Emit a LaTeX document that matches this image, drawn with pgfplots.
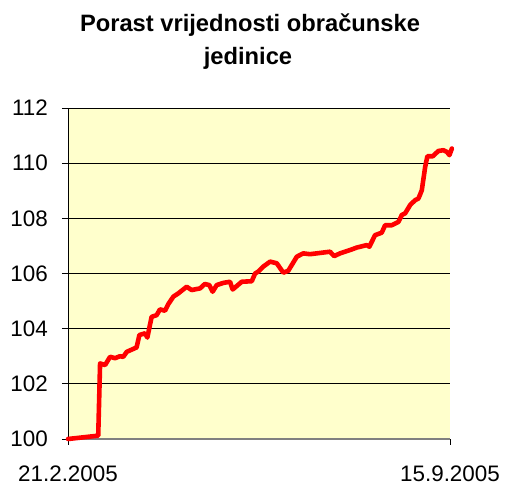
\documentclass[border=0pt]{standalone}
\usepackage{pgfplots}
\pgfplotsset{compat=1.18}
\usepackage{fontspec}
\setmainfont{Liberation Sans}
\definecolor{bgyel}{HTML}{FFFFCC}
\definecolor{linered}{HTML}{FF0000}
\begin{document}
\begin{tikzpicture}
\path[use as bounding box] (-68bp,-47bp) rectangle (440bp,439bp);
\begin{axis}[
  at={(0,0)}, anchor=south west,
  scale only axis, width=382bp, height=331bp,
  xmin=0, xmax=206, ymin=100, ymax=112,
  ytick={100,102,...,112},
  xtick={0,206}, xticklabels={21.2.2005,15.9.2005},
  axis lines=left, axis line style={-},
  x axis line style={draw=gray, line width=1.3bp},
  y axis line style={draw=black, line width=0.8bp},
  ymajorgrids, grid style={black, line width=0.7bp},
  tick align=outside, major tick length=6bp,
  tick style={black, line width=0.8bp},
  minor tick num=0,
  /pgf/number format/assume math mode=true,
  ticklabel style={font=\fontsize{22.5}{26}\selectfont},
  yticklabel style={inner sep=0pt, anchor=east, xshift=-14bp},
  xticklabel style={inner sep=0pt, anchor=north, yshift=-21bp},
  axis background/.style={fill=bgyel},
  clip=false,
]
\addplot[linered, line width=4.6bp, line join=round, line cap=round] coordinates {
(0,100.0) (16.3,100.12) (17.3,102.74) (20,102.68) (22.7,102.98) (25.4,102.93)
(28,103.0) (29.8,102.98) (31.7,103.16) (37,103.32) (38.5,103.77) (41.5,103.83)
(42.8,103.68) (45.1,104.43) (47.8,104.49) (49.6,104.70) (52.3,104.65) (54.1,104.89)
(56.8,105.16) (59.5,105.28) (64,105.52) (66.7,105.40) (71.2,105.46) (73.8,105.62)
(76.2,105.58) (78,105.34) (80.2,105.58) (83.8,105.66) (87.4,105.70) (88.8,105.42)
(93.7,105.70) (99.1,105.72) (100.9,106.0) (102.6,106.07) (105.3,106.25) (109,106.43)
(112.6,106.37) (116.1,106.03) (118.8,106.10) (123.4,106.61) (126.9,106.73) (130.5,106.70)
(134.1,106.73) (141.3,106.79) (143.5,106.63) (146.7,106.73) (152.1,106.85) (155.7,106.94)
(161.1,107.03) (162.5,106.97) (165.6,107.39) (169.2,107.48) (171,107.75) (174.6,107.75)
(178.2,107.87) (180,108.12) (181.8,108.18) (184.5,108.48) (187.2,108.66) (189,108.72)
(190.8,109.02) (192.6,109.86) (193.8,110.25) (196.7,110.25) (199.7,110.44) (202.4,110.47)
(204.3,110.41) (205.7,110.29) (207,110.53)
};
\end{axis}
\node[anchor=base, inner sep=0pt, font=\fontsize{23.8}{30}\selectfont\bfseries] at (182bp,407bp) {Porast vrijednosti obračunske};
\node[anchor=base, inner sep=0pt, font=\fontsize{23.8}{30}\selectfont\bfseries] at (180bp,374bp) {jedinice};
\end{tikzpicture}
\end{document}
